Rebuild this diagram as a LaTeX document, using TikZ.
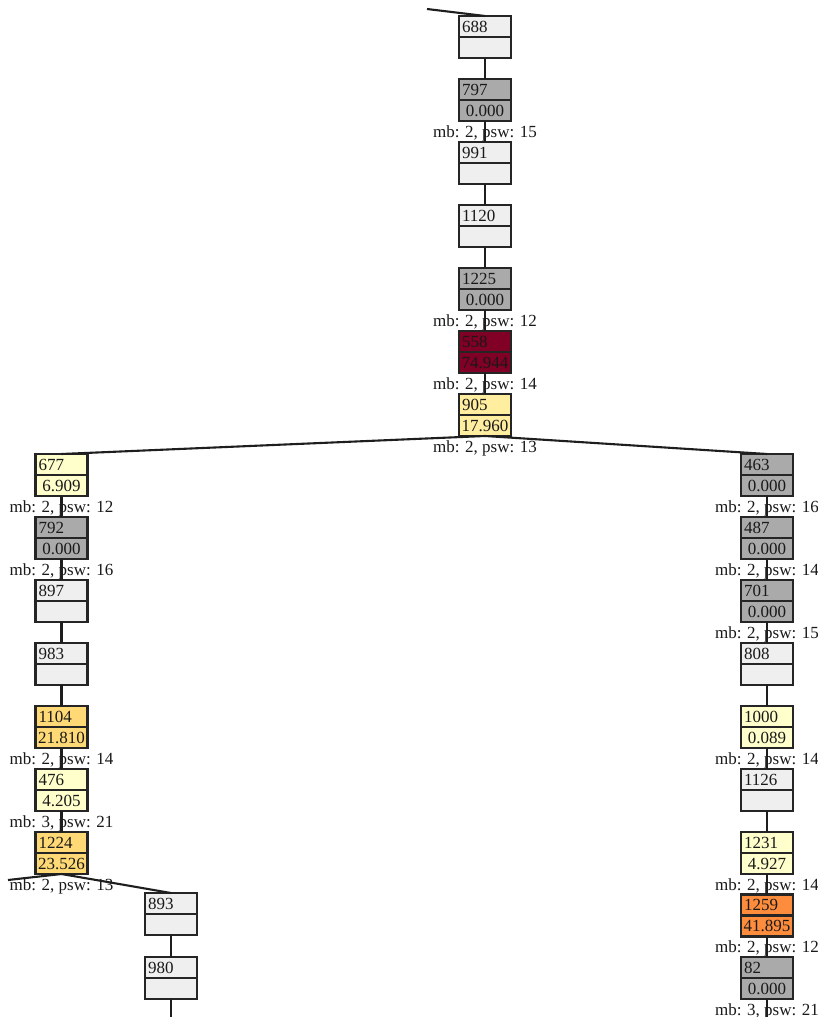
\documentclass[tikz,border=0pt]{standalone}
\usepackage{fontspec}
\setmainfont{Liberation Serif}
\definecolor{emptyc}{HTML}{EFEFEF}
\definecolor{zeroc}{HTML}{AAAAAA}
\definecolor{c558}{HTML}{800026}
\definecolor{c905}{HTML}{FFEDA0}
\definecolor{cpale}{HTML}{FFFFCC}
\definecolor{cgold}{HTML}{FED976}
\definecolor{corange}{HTML}{FD8D3C}
\definecolor{linec}{HTML}{1E1E1E}
\definecolor{borderc}{HTML}{252525}
\tikzset{
  cellbase/.style={draw=borderc, line width=2.1pt, outer sep=0pt, minimum height=21pt,
    font=\fontsize{17}{20}\selectfont, text=black!90, inner ysep=0pt},
  topcell/.style={cellbase, anchor=north, text width=46pt, inner xsep=3pt, align=left},
  valcell/.style={cellbase, anchor=north, text width=52pt, inner xsep=0pt, align=center},
  edge/.style={draw=linec, line width=2.1pt},
  lbl/.style={font=\fontsize{17}{20}\selectfont, anchor=base, inner sep=0pt, text=black!90}
}
\newcommand{\tbox}[6]{%
  \node[topcell, fill=#6] (#1) at (#2,#3) {#4};
  \node[valcell, fill=#6] (#1v) at (#1.south) {#5};
}
\newcommand{\tlbl}[2]{%
  \node[lbl] (#1l) at ([yshift=-16pt]#1v.south) {#2};
}
\begin{document}
\begin{tikzpicture}[x=1pt,y=-1pt]
\clip (0,0) rectangle (817,1017);
\fill[white] (0,0) rectangle (817,1017);
% centre column
\tbox{n688}{485}{16}{688}{}{emptyc}
\tbox{n797}{485}{79}{797}{0.000}{zeroc}
\tbox{n991}{485}{142}{991}{}{emptyc}
\tbox{n1120}{485}{205}{1120}{}{emptyc}
\tbox{n1225}{485}{268}{1225}{0.000}{zeroc}
\tbox{n558}{485}{331}{558}{74.944}{c558}
\tbox{n905}{485}{394}{905}{17.960}{c905}
% left column
\tbox{n677}{61.5}{454}{677}{6.909}{cpale}
\tbox{n792}{61.5}{517}{792}{0.000}{zeroc}
\tbox{n897}{61.5}{580}{897}{}{emptyc}
\tbox{n983}{61.5}{643}{983}{}{emptyc}
\tbox{n1104}{61.5}{706}{1104}{21.810}{cgold}
\tbox{n476}{61.5}{769}{476}{4.205}{cpale}
\tbox{n1224}{61.5}{832}{1224}{23.526}{cgold}
% sub column
\tbox{n893}{171}{893}{893}{}{emptyc}
\tbox{n980}{171}{957}{980}{}{emptyc}
% right column
\tbox{n463}{767}{454}{463}{0.000}{zeroc}
\tbox{n487}{767}{517}{487}{0.000}{zeroc}
\tbox{n701}{767}{580}{701}{0.000}{zeroc}
\tbox{n808}{767}{643}{808}{}{emptyc}
\tbox{n1000}{767}{706}{1000}{0.089}{cpale}
\tbox{n1126}{767}{769}{1126}{}{emptyc}
\tbox{n1231}{767}{832}{1231}{4.927}{cpale}
\tbox{n1259}{767}{894.5}{1259}{41.895}{corange}
\tbox{n82}{767}{957}{82}{0.000}{zeroc}
% labels
\tlbl{n797}{mb: 2, psw: 15}
\tlbl{n1225}{mb: 2, psw: 12}
\tlbl{n558}{mb: 2, psw: 14}
\tlbl{n905}{mb: 2, psw: 13}
\tlbl{n677}{mb: 2, psw: 12}
\tlbl{n792}{mb: 2, psw: 16}
\tlbl{n1104}{mb: 2, psw: 14}
\tlbl{n476}{mb: 3, psw: 21}
\tlbl{n1224}{mb: 2, psw: 13}
\tlbl{n463}{mb: 2, psw: 16}
\tlbl{n487}{mb: 2, psw: 14}
\tlbl{n701}{mb: 2, psw: 15}
\tlbl{n1000}{mb: 2, psw: 14}
\tlbl{n1231}{mb: 2, psw: 14}
\tlbl{n1259}{mb: 2, psw: 12}
\tlbl{n82}{mb: 3, psw: 21}
% free ends
\coordinate (inTop) at (427,9);
\coordinate (outLeft) at (8,880);
\coordinate (out980) at (171,1020);
\coordinate (out82) at (767,1020);
% edges
\draw[edge] (inTop) -- (n688.north);
\draw[edge] (n688v.south) -- (n797.north);
\draw[edge] (n797v.south) -- (n991.north);
\draw[edge] (n991v.south) -- (n1120.north);
\draw[edge] (n1120v.south) -- (n1225.north);
\draw[edge] (n1225v.south) -- (n558.north);
\draw[edge] (n558v.south) -- (n905.north);
\draw[edge] (n905v.south) -- (n677.north);
\draw[edge] (n905v.south) -- (n463.north);
\draw[edge] (n677v.south) -- (n792.north);
\draw[edge] (n792v.south) -- (n897.north);
\draw[edge] (n897v.south) -- (n983.north);
\draw[edge] (n983v.south) -- (n1104.north);
\draw[edge] (n1104v.south) -- (n476.north);
\draw[edge] (n476v.south) -- (n1224.north);
\draw[edge] (n1224v.south) -- (outLeft);
\draw[edge] (n1224v.south) -- (n893.north);
\draw[edge] (n893v.south) -- (n980.north);
\draw[edge] (n980v.south) -- (out980);
\draw[edge] (n463v.south) -- (n487.north);
\draw[edge] (n487v.south) -- (n701.north);
\draw[edge] (n701v.south) -- (n808.north);
\draw[edge] (n808v.south) -- (n1000.north);
\draw[edge] (n1000v.south) -- (n1126.north);
\draw[edge] (n1126v.south) -- (n1231.north);
\draw[edge] (n1231v.south) -- (n1259.north);
\draw[edge] (n1259v.south) -- (n82.north);
\draw[edge] (n82v.south) -- (out82);
\end{tikzpicture}
\end{document}
